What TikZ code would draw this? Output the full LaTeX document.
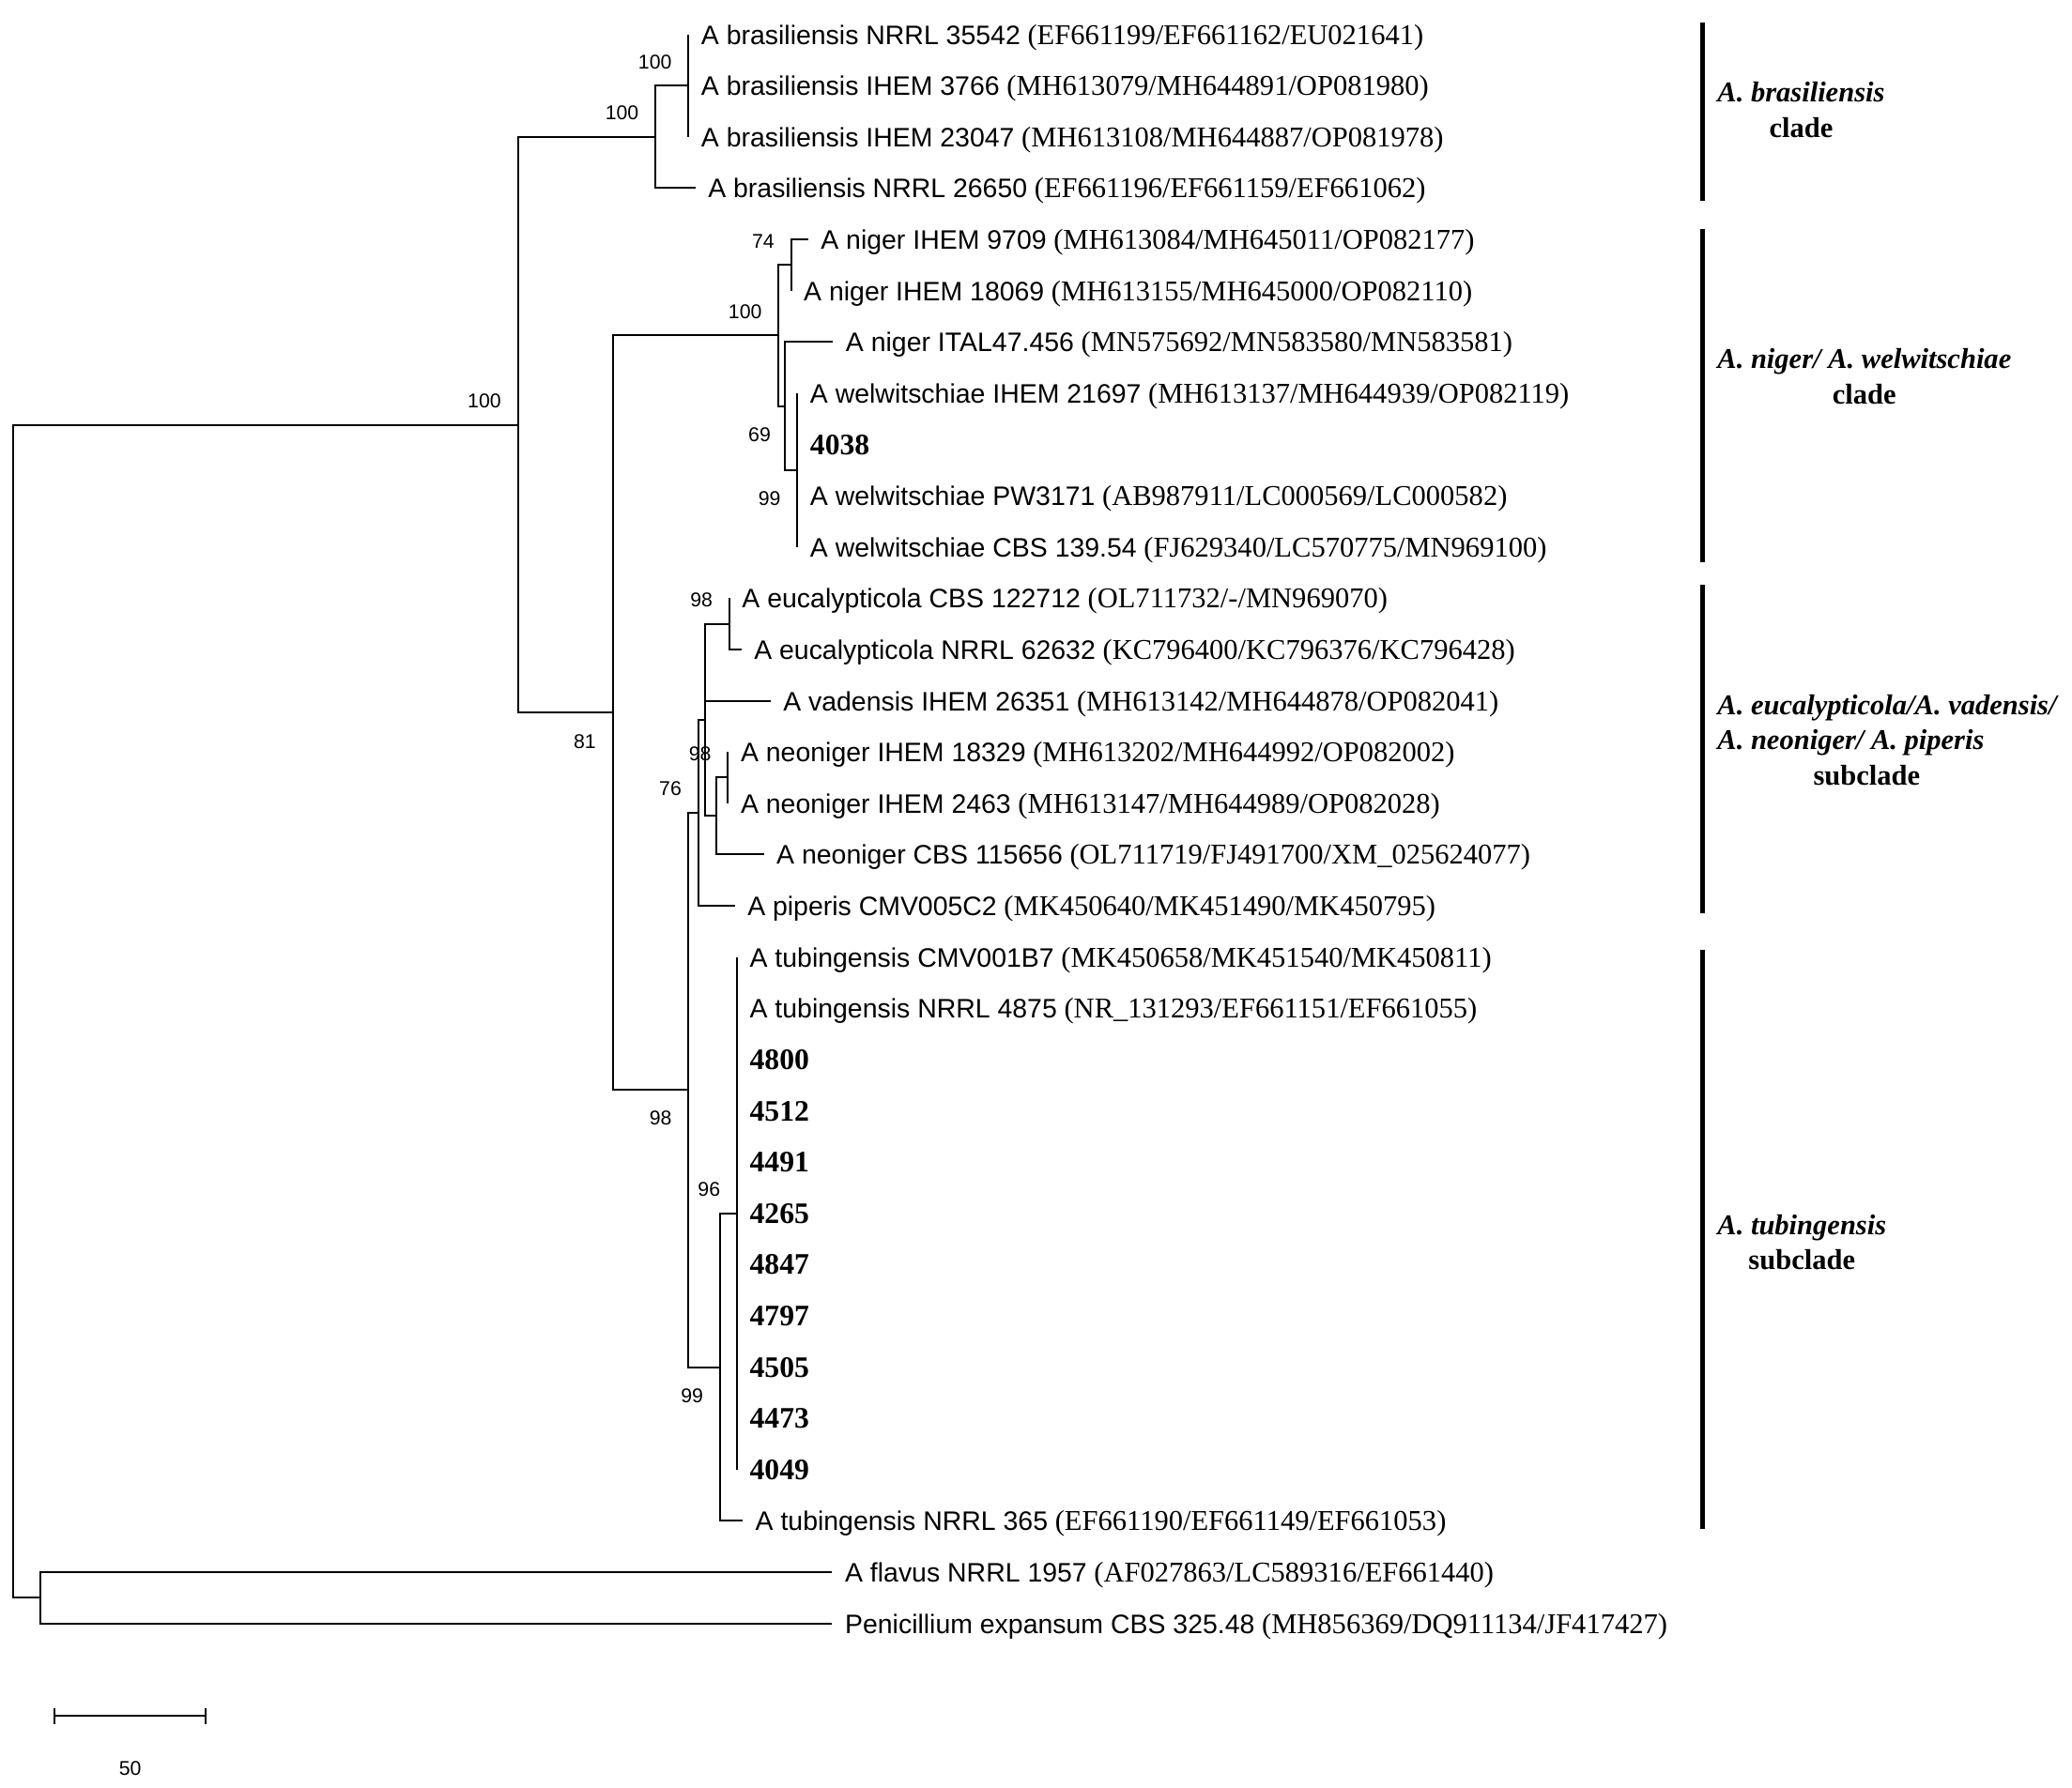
\documentclass[tikz,border=0pt]{standalone}
\usepackage{fontspec}
\setmainfont{Liberation Serif}
\newfontfamily\arialfont{Liberation Sans}
\usepackage{tikz}
\usetikzlibrary{arrows.meta, positioning}

\newcommand{\taxname}[1]{{\arialfont\fontsize{5.75pt}{7pt}\selectfont #1}}

\tikzset{
  branch/.style={line width=0.4pt},
  taxon/.style={anchor=west, inner xsep=0.09cm, inner ysep=0pt, text height=0.15cm, text depth=0pt,
    font=\fontsize{6.17pt}{7pt}\selectfont},
  isolate/.style={taxon, font=\fontsize{6.4pt}{7pt}\selectfont\bfseries},
  boot/.style={inner sep=0pt, font=\arialfont\fontsize{4.3pt}{5pt}\selectfont},
  cladebar/.style={line width=0.95pt},
  cladelabel/.style={anchor=west, inner sep=0pt, font=\fontsize{6.17pt}{7.6pt}\selectfont\bfseries},
}

\begin{document}
\begin{tikzpicture}

\useasboundingbox (0,0) rectangle (15.68,-13.528);

% Internal nodes
\coordinate (root) at (0.10,-7.655);
\coordinate (outg) at (0.304,-12.094);
\coordinate (ingr) at (3.919,-3.2155);
\coordinate (bras) at (4.96,-1.036);
\coordinate (brsub) at (5.21,-0.648);
\coordinate (sect) at (4.637,-5.395);
\coordinate (nig) at (5.892,-2.5395);
\coordinate (n74) at (5.986,-2.006);
\coordinate (n69) at (5.939,-3.073);
\coordinate (wel) at (6.034,-3.558);
\coordinate (rest) at (5.21,-8.2504);
\coordinate (n76) at (5.284,-6.1528);
\coordinate (evn) at (5.334,-5.4495);
\coordinate (euc) at (5.519,-4.722);
\coordinate (neo) at (5.424,-6.177);
\coordinate (neosub) at (5.509,-5.886);
\coordinate (tub) at (5.448,-10.348);
\coordinate (tubsub) at (5.577,-9.184);

% Taxa
\node[taxon] (bra1) at (5.21,-0.260) {\taxname{A brasiliensis NRRL 35542} (EF661199/EF661162/EU021641)};
\node[taxon] (bra2) at (5.21,-0.648) {\taxname{A brasiliensis IHEM 3766} (MH613079/MH644891/OP081980)};
\node[taxon] (bra3) at (5.21,-1.036) {\taxname{A brasiliensis IHEM 23047} (MH613108/MH644887/OP081978)};
\node[taxon] (bra4) at (5.262,-1.424) {\taxname{A brasiliensis NRRL 26650} (EF661196/EF661159/EF661062)};
\node[taxon] (nig1) at (6.115,-1.812) {\taxname{A niger IHEM 9709} (MH613084/MH645011/OP082177)};
\node[taxon] (nig2) at (5.986,-2.200) {\taxname{A niger IHEM 18069} (MH613155/MH645000/OP082110)};
\node[taxon] (nig3) at (6.304,-2.588) {\taxname{A niger ITAL47.456} (MN575692/MN583580/MN583581)};
\node[taxon] (wel1) at (6.034,-2.976) {\taxname{A welwitschiae IHEM 21697} (MH613137/MH644939/OP082119)};
\node[isolate] (i4038) at (6.034,-3.364) {4038};
\node[taxon] (wel2) at (6.034,-3.752) {\taxname{A welwitschiae PW3171} (AB987911/LC000569/LC000582)};
\node[taxon] (wel3) at (6.034,-4.140) {\taxname{A welwitschiae CBS 139.54} (FJ629340/LC570775/MN969100)};
\node[taxon] (euc1) at (5.519,-4.528) {\taxname{A eucalypticola CBS 122712} (OL711732/-/MN969070)};
\node[taxon] (euc2) at (5.61,-4.916) {\taxname{A eucalypticola NRRL 62632} (KC796400/KC796376/KC796428)};
\node[taxon] (vad) at (5.83,-5.304) {\taxname{A vadensis IHEM 26351} (MH613142/MH644878/OP082041)};
\node[taxon] (neo1) at (5.509,-5.692) {\taxname{A neoniger IHEM 18329} (MH613202/MH644992/OP082002)};
\node[taxon] (neo2) at (5.509,-6.080) {\taxname{A neoniger IHEM 2463} (MH613147/MH644989/OP082028)};
\node[taxon] (neo3) at (5.78,-6.468) {\taxname{A neoniger CBS 115656} (OL711719/FJ491700/XM\_025624077)};
\node[taxon] (pip) at (5.56,-6.856) {\taxname{A piperis CMV005C2} (MK450640/MK451490/MK450795)};
\node[taxon] (tub1) at (5.577,-7.244) {\taxname{A tubingensis CMV001B7} (MK450658/MK451540/MK450811)};
\node[taxon] (tub2) at (5.577,-7.632) {\taxname{A tubingensis NRRL 4875} (NR\_131293/EF661151/EF661055)};
\foreach \s [count=\i from 0] in {4800,4512,4491,4265,4847,4797,4505,4473,4049}
  \node[isolate] (i\s) at (5.577,{-8.020-0.388*\i}) {\s};
\node[taxon] (tub3) at (5.62,-11.512) {\taxname{A tubingensis NRRL 365} (EF661190/EF661149/EF661053)};
\node[taxon] (flav) at (6.298,-11.900) {\taxname{A flavus NRRL 1957} (AF027863/LC589316/EF661440)};
\node[taxon] (pen) at (6.298,-12.288) {\taxname{Penicillium expansum CBS 325.48} (MH856369/DQ911134/JF417427)};

% Branches
\draw[branch] (root) |- (ingr);
\draw[branch] (root) |- (outg);
\draw[branch] (outg) |- (flav.west);
\draw[branch] (outg) |- (pen.west);
\draw[branch] (ingr) |- (bras);
\draw[branch] (ingr) |- (sect);
\draw[branch] (bras) |- (brsub);
\draw[branch] (bras) |- (bra4.west);
\foreach \t in {bra1,bra2,bra3}
  \draw[branch] (brsub) |- (\t.west);
\draw[branch] (sect) |- (nig);
\draw[branch] (sect) |- (rest);
\draw[branch] (nig) |- (n74);
\draw[branch] (nig) |- (n69);
\draw[branch] (n74) |- (nig1.west);
\draw[branch] (n74) |- (nig2.west);
\draw[branch] (n69) |- (nig3.west);
\draw[branch] (n69) |- (wel);
\foreach \t in {wel1,i4038,wel2,wel3}
  \draw[branch] (wel) |- (\t.west);
\draw[branch] (rest) |- (n76);
\draw[branch] (rest) |- (tub);
\draw[branch] (n76) |- (evn);
\draw[branch] (n76) |- (pip.west);
\draw[branch] (evn) |- (euc);
\draw[branch] (evn) |- (vad.west);
\draw[branch] (evn) |- (neo);
\draw[branch] (euc) |- (euc1.west);
\draw[branch] (euc) |- (euc2.west);
\draw[branch] (neo) |- (neosub);
\draw[branch] (neo) |- (neo3.west);
\draw[branch] (neosub) |- (neo1.west);
\draw[branch] (neosub) |- (neo2.west);
\draw[branch] (tub) |- (tubsub);
\draw[branch] (tub) |- (tub3.west);
\foreach \t in {tub1,tub2,i4800,i4512,i4491,i4265,i4847,i4797,i4505,i4473,i4049}
  \draw[branch] (tubsub) |- (\t.west);

% Bootstrap values
\node[boot, above left=0.12cm and 0.12cm of ingr] (bIngr) {100};
\node[boot, above left=0.12cm and 0.12cm of bras] (bBras) {100};
\node[boot, above left=0.12cm and 0.12cm of brsub] (bBrsub) {100};
\node[boot, below left=0.155cm and 0.12cm of sect] (bSect) {81};
\node[boot, above left=0.12cm and 0.12cm of nig] (bNig) {100};
\node[boot, above left=0.12cm and 0.12cm of n74] (bN74) {74};
\node[boot, below left=0.155cm and 0.10cm of n69] (bN69) {69};
\node[boot, below left=0.155cm and 0.12cm of wel] (bWel) {99};
\node[boot, below left=0.155cm and 0.12cm of rest] (bRest) {98};
\node[boot, above left=0.12cm and 0.12cm of n76] (bN76) {76};
\node[boot, above left=0.12cm and 0.12cm of euc] (bEuc) {98};
\node[boot, above left=0.12cm and 0.12cm of neosub] (bNeosub) {98};
\node[boot, below left=0.155cm and 0.12cm of tub] (bTub) {99};
\node[boot, above left=0.12cm and 0.12cm of tubsub] (bTubsub) {96};

% Scale bar
\coordinate (sbL) at (0.408,-12.989);
\coordinate (sbR) at (1.563,-12.989);
\draw[branch, {Bar[width=0.12cm]}-{Bar[width=0.12cm]}] (sbL) -- (sbR);
\node[boot, anchor=north] (sbText) at (0.985,-13.325) {50};

% Clades
\draw[cladebar] (12.882,-0.173) -- (12.882,-1.521);
\draw[cladebar] (12.882,-1.733) -- (12.882,-4.255);
\draw[cladebar] (12.882,-4.428) -- (12.882,-6.91);
\draw[cladebar] (12.882,-7.188) -- (12.882,-11.57);

\node[cladelabel, align=center] (cBras) at (12.99,-0.83) {\textit{A. brasiliensis}\\clade};
\node[cladelabel, align=center] (cNig) at (12.99,-2.85) {\textit{A. niger/ A. welwitschiae}\\clade};
\node[cladelabel, align=left] (cEuc) at (12.99,-5.60) {\textit{A. eucalypticola/A. vadensis/}\\\textit{A. neoniger/ A. piperis}\\\hspace*{0.726cm}subclade};
\node[cladelabel, align=center] (cTub) at (12.99,-9.405) {\textit{A. tubingensis}\\subclade};

\end{tikzpicture}
\end{document}
